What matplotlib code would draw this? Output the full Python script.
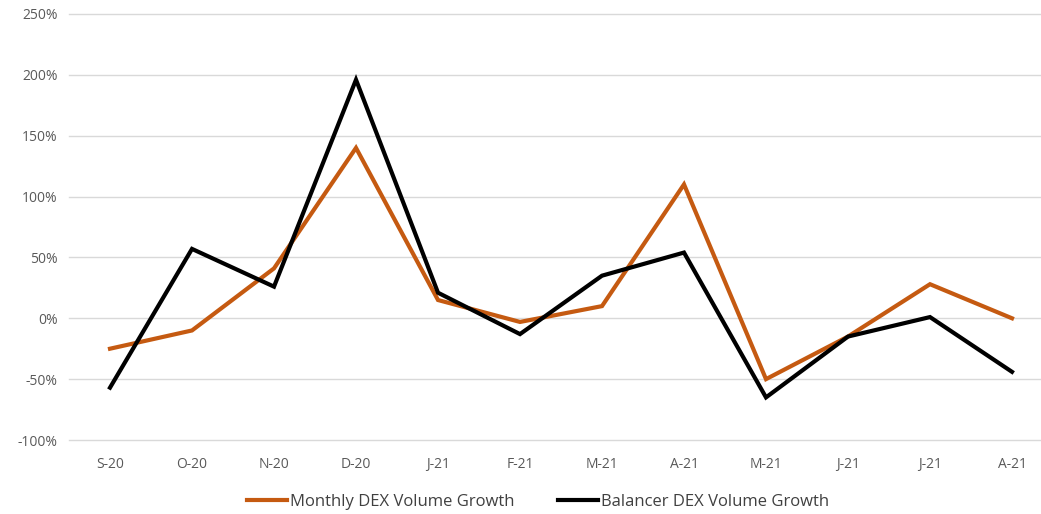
import numpy as np
import matplotlib.pyplot as plt
from matplotlib.ticker import FuncFormatter, MultipleLocator

months = ['S-20', 'O-20', 'N-20', 'D-20', 'J-21', 'F-21', 'M-21', 'A-21', 'M-21', 'J-21', 'J-21', 'A-21']
monthly_dex = [-25, -10, 41, 140, 15, -3, 10, 110, -50, -15, 28, 0]
balancer_dex = [-57, 57, 26, 196, 21, -13, 35, 54, -65, -15, 1, -44]

plt.rcParams['font.family'] = ['Open Sans', 'DejaVu Sans']

fig = plt.figure(figsize=(10.41, 5.14), dpi=100)
ax = fig.add_axes([69 / 1041, 74 / 514, 984 / 1041, 426 / 514])

x = np.arange(len(months))
l1, = ax.plot(x, monthly_dex, color='#C55A11', lw=3, solid_joinstyle='miter',
              label='Monthly DEX Volume Growth', zorder=3)
l2, = ax.plot(x, balancer_dex, color='black', lw=3, solid_joinstyle='miter',
              label='Balancer DEX Volume Growth', zorder=4)

ax.set_xlim(-0.5, len(months) - 0.5)
ax.set_ylim(-100, 250)
ax.yaxis.set_major_locator(MultipleLocator(50))
ax.yaxis.set_major_formatter(FuncFormatter(lambda v, p: f'{v:.0f}%'))
ax.set_xticks(x)
ax.set_xticklabels(months)
ax.grid(axis='y', color='#D9D9D9', lw=1)
for gl in ax.get_ygridlines():
    gl.set_clip_on(False)
ax.set_axisbelow(True)
for s in ax.spines.values():
    s.set_visible(False)
ax.tick_params(length=0, colors='#595959', labelsize=10)
ax.tick_params(axis='x', pad=12)
ax.tick_params(axis='y', pad=8)

fig.legend(handles=[l1, l2], loc='center', bbox_to_anchor=(538 / 1041, 12 / 514),
           ncol=2, frameon=False, fontsize=12, handlelength=2.4, handletextpad=0.2,
           columnspacing=2.6, labelcolor='#404040')

fig.savefig('out.png', dpi=100)
